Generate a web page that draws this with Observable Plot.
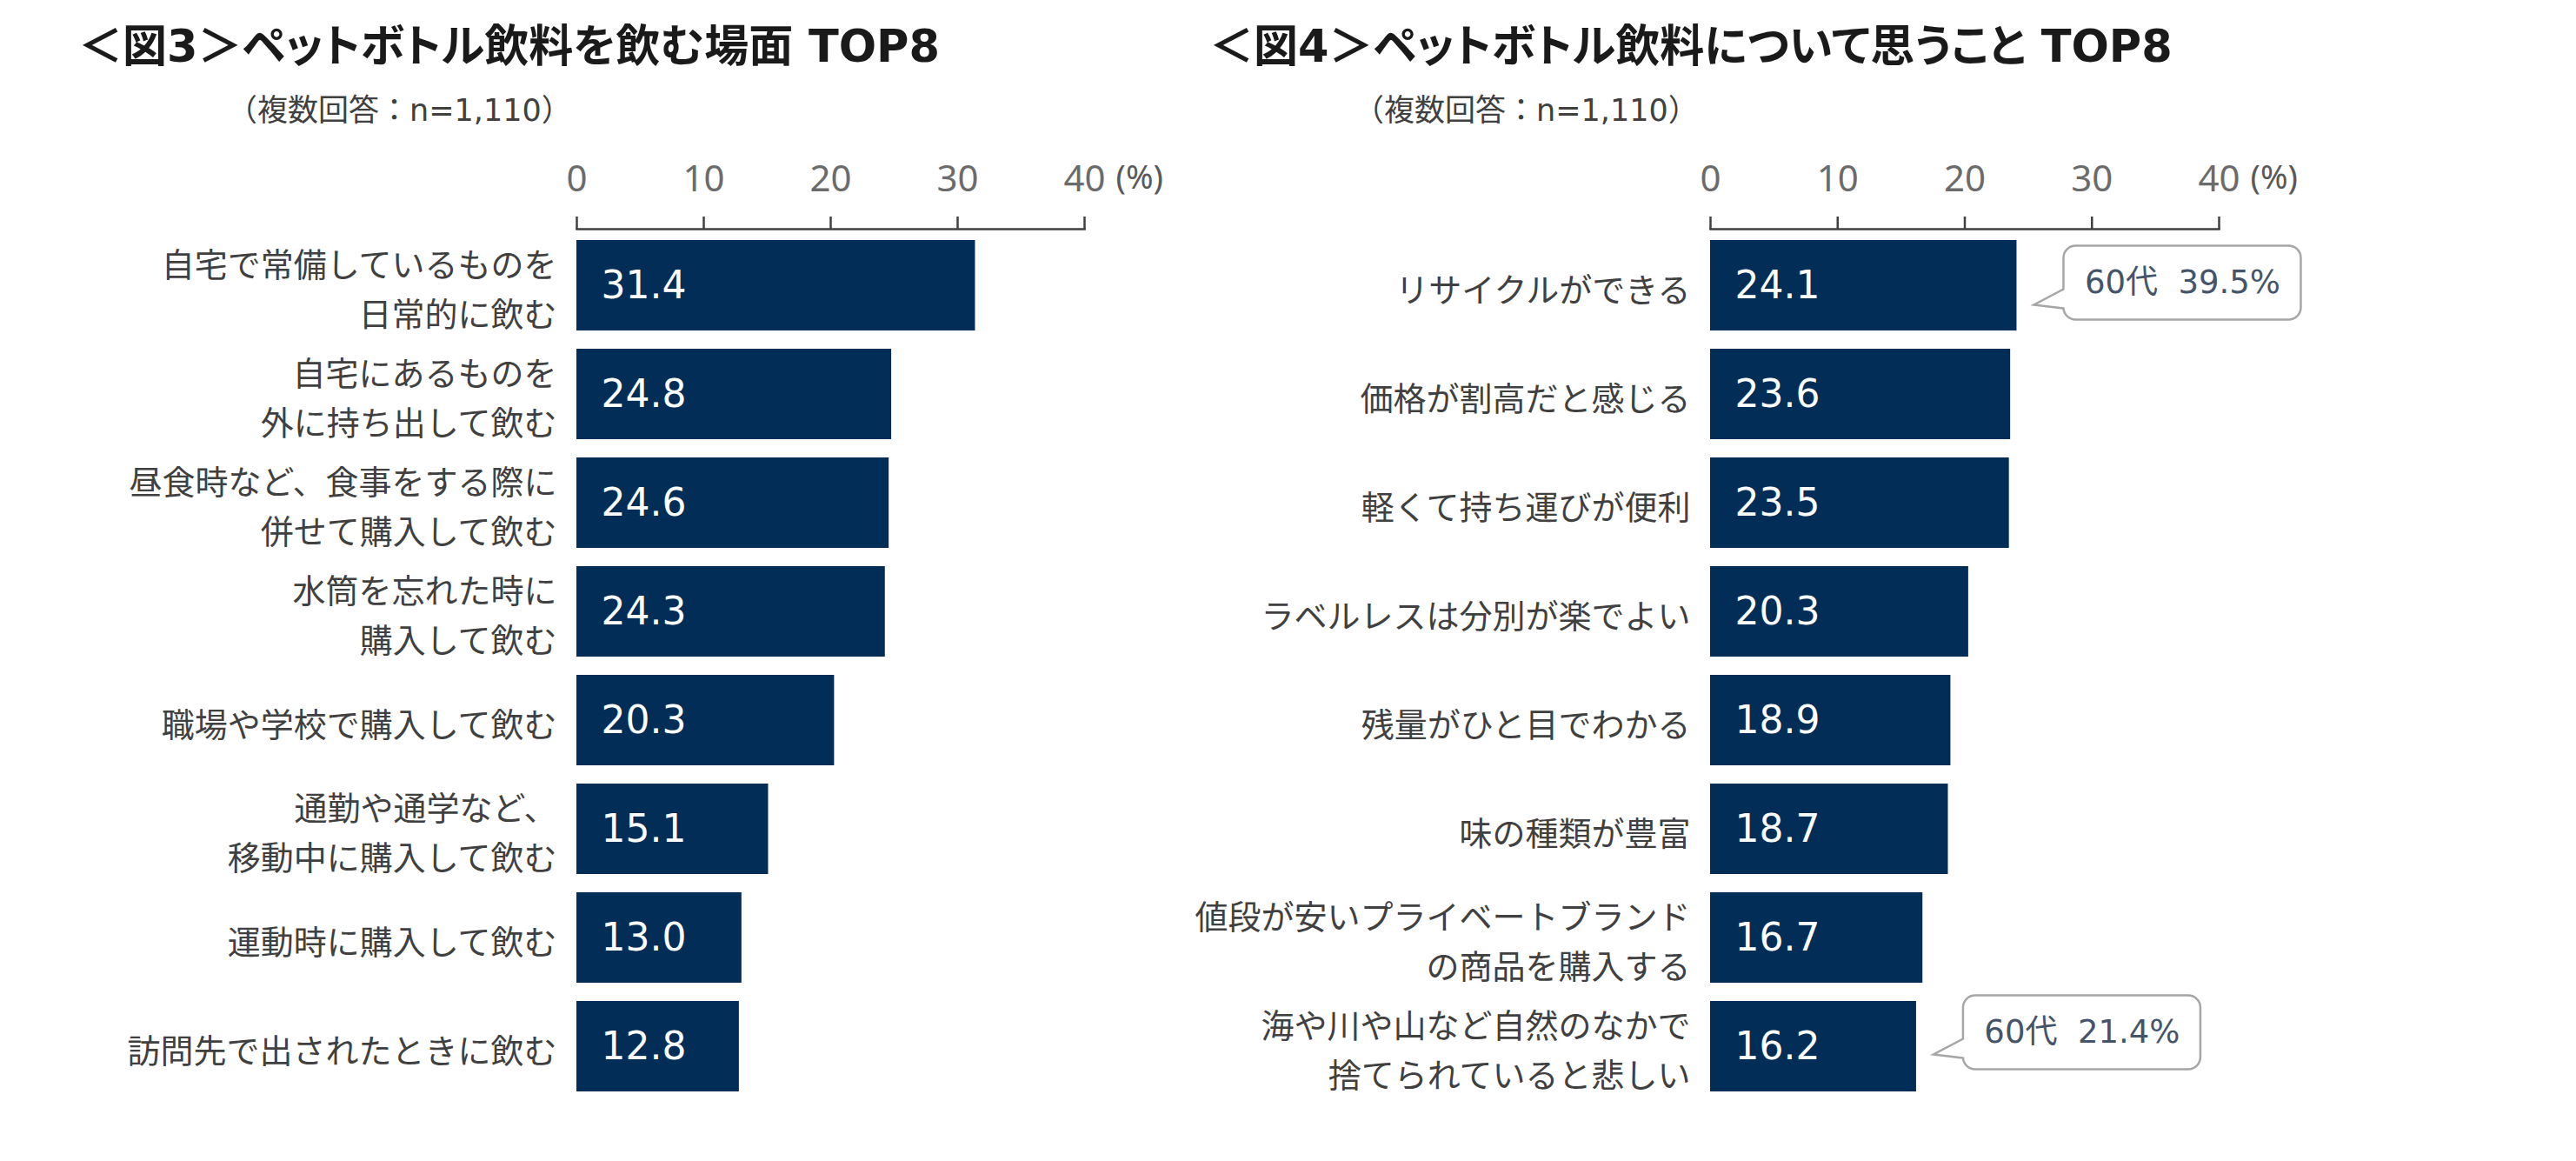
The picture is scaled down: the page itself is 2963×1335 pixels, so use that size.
<!DOCTYPE html>
<html><head><meta charset="utf-8">
<script src="https://cdn.jsdelivr.net/npm/d3@7"></script>
<script src="https://cdn.jsdelivr.net/npm/@observablehq/plot@0.6"></script>
<style>
body{margin:0;background:#fff;}
#page{position:relative;width:2963px;height:1335px;overflow:hidden;background:#fff;font-family:"DejaVu Sans","Noto Sans CJK JP",sans-serif;}
.title{position:absolute;font-size:51px;font-weight:bold;line-height:51px;color:#1a1a1a;white-space:nowrap;font-feature-settings:"palt";}
.sub{position:absolute;font-size:35px;line-height:35px;color:#404040;white-space:nowrap;}
.panel{position:absolute;top:150px;}
.panel svg{max-width:none;}
</style></head><body>
<div id="page">
  <div class="title" id="t1" style="left:90px;top:28px"></div>
  <div class="sub" id="s1" style="left:261px;top:110px"></div>
  <div class="title" id="t2" style="left:1391px;top:28px"></div>
  <div class="sub" id="s2" style="left:1557px;top:110px"></div>
  <div class="panel" id="left" style="left:0px;width:1340px"></div>
  <div class="panel" id="right" style="left:1340px;width:1623px"></div>
</div>
<script>
// ---- data ----
const title1 = "＜図3＞ペットボトル飲料を飲む場面 TOP8";
const title2 = "＜図4＞ペットボトル飲料について思うこと TOP8";
const subtitle = "（複数回答：n=1,110）";
const sceneLabels = [
  "自宅で常備しているものを\n日常的に飲む",
  "自宅にあるものを\n外に持ち出して飲む",
  "昼食時など、食事をする際に\n併せて購入して飲む",
  "水筒を忘れた時に\n購入して飲む",
  "職場や学校で購入して飲む",
  "通勤や通学など、\n移動中に購入して飲む",
  "運動時に購入して飲む",
  "訪問先で出されたときに飲む"
];
const sceneValues = [31.4, 24.8, 24.6, 24.3, 20.3, 15.1, 13.0, 12.8];
const opinionLabels = [
  "リサイクルができる",
  "価格が割高だと感じる",
  "軽くて持ち運びが便利",
  "ラベルレスは分別が楽でよい",
  "残量がひと目でわかる",
  "味の種類が豊富",
  "値段が安いプライベートブランド\nの商品を購入する",
  "海や川や山など自然のなかで\n捨てられていると悲しい"
];
const opinionValues = [24.1, 23.6, 23.5, 20.3, 18.9, 18.7, 16.7, 16.2];
const calloutTargets = ["リサイクルができる", "海や川や山など自然のなかで\n捨てられていると悲しい"];
const calloutTexts = ["60代  39.5%", "60代  21.4%"];
const xTicks = [0, 10, 20, 30, 40];
const unitText = "(%)";

// ---- styles ----
const BAR = "#022d57";
const CJK = "Noto Sans CJK JP";
const calloutStyle = {gap: 54, w: 273, h: 85, r: 14, shifts: [-3, -16]};

document.getElementById("t1").textContent = title1;
document.getElementById("t2").textContent = title2;
document.getElementById("s1").textContent = subtitle;
document.getElementById("s2").textContent = subtitle;

function calloutShape(row, shift) {
  const {gap, w, h, r} = calloutStyle;
  return (index, scales) => {
    const {x, y} = scales;
    const bw = y.bandwidth ? y.bandwidth() : 0;
    const cy = y(row.label) + bw / 2 + shift;
    const x0 = x(row.value) + gap, x1 = x0 + w;
    const t = cy - h / 2, b = cy + h / 2;
    const p = [
      `M${x0 + r},${t}`, `H${x1 - r}`, `A${r},${r} 0 0 1 ${x1},${t + r}`,
      `V${b - r}`, `A${r},${r} 0 0 1 ${x1 - r},${b}`,
      `H${x0 + r}`, `A${r},${r} 0 0 1 ${x0},${b - r}`,
      `V${t + 72}`, `L${x0 - 34},${t + 68}`, `L${x0},${t + 50}`,
      `V${t + r}`, `A${r},${r} 0 0 1 ${x0 + r},${t}`, "Z"
    ].join("");
    return d3.create("svg:path").attr("d", p).attr("fill", "white")
      .attr("stroke", "#a6a6a6").attr("stroke-width", 2.5).node();
  };
}

function barChart(el, labels, values, width, marginLeft, marginRight, callouts) {
  const rows = labels.map((label, i) => ({label, value: values[i]}));
  const marks = [
    Plot.barX(rows, {x: "value", y: "label", fill: BAR}),
    Plot.text(rows, {x: 0, y: "label", text: d => d.value.toFixed(1), dx: 28, textAnchor: "start",
      fill: "white", fontSize: 44, fontFamily: "DejaVu Sans"}),
    Plot.frame({anchor: "top", stroke: "#404040", strokeWidth: 2.5}),
    Plot.axisX({anchor: "top", ticks: xTicks, tickSize: 15, tickPadding: 29, stroke: "#404040", strokeWidth: 2.5,
      color: "#6b6b6b", fontSize: 42, fontFamily: "Noto Sans", label: null}),
    Plot.text([unitText], {x: 40, frameAnchor: "top", dx: 36, dy: -73, textAnchor: "start",
      fill: "#595959", fontSize: 38, fontFamily: "Noto Sans"}),
    Plot.axisY({anchor: "left", tickSize: 0, tickPadding: 23, fontSize: 38, lineHeight: 1.48,
      color: "#404040", fontFamily: CJK, label: null})
  ];
  if (callouts) {
    callouts.forEach((c, i) => {
      const row = rows.find(r => r.label === c.label);
      const shift = calloutStyle.shifts[i];
      marks.push(calloutShape(row, shift));
      marks.push(Plot.text([row], {x: "value", y: "label", text: () => c.text,
        dx: calloutStyle.gap + calloutStyle.w / 2, dy: shift, textAnchor: "middle",
        fill: "#44546a", fontSize: 37, fontFamily: "DejaVu Sans, Noto Sans CJK JP"}));
    });
  }
  const svg = Plot.plot({
    width, height: 1185,
    marginTop: 113, marginBottom: 67, marginLeft, marginRight,
    style: {fontFamily: CJK, background: "white", overflow: "visible"},
    x: {domain: [0, 40], axis: null},
    y: {domain: labels, paddingInner: 0.17, paddingOuter: 0.104, axis: null},
    marks
  });
  el.appendChild(svg);
}

barChart(document.getElementById("left"), sceneLabels, sceneValues, 1340, 663, 93, null);
barChart(document.getElementById("right"), opinionLabels, opinionValues, 1623, 627, 411,
  calloutTargets.map((label, i) => ({label, text: calloutTexts[i]})));
</script>
</body></html>
